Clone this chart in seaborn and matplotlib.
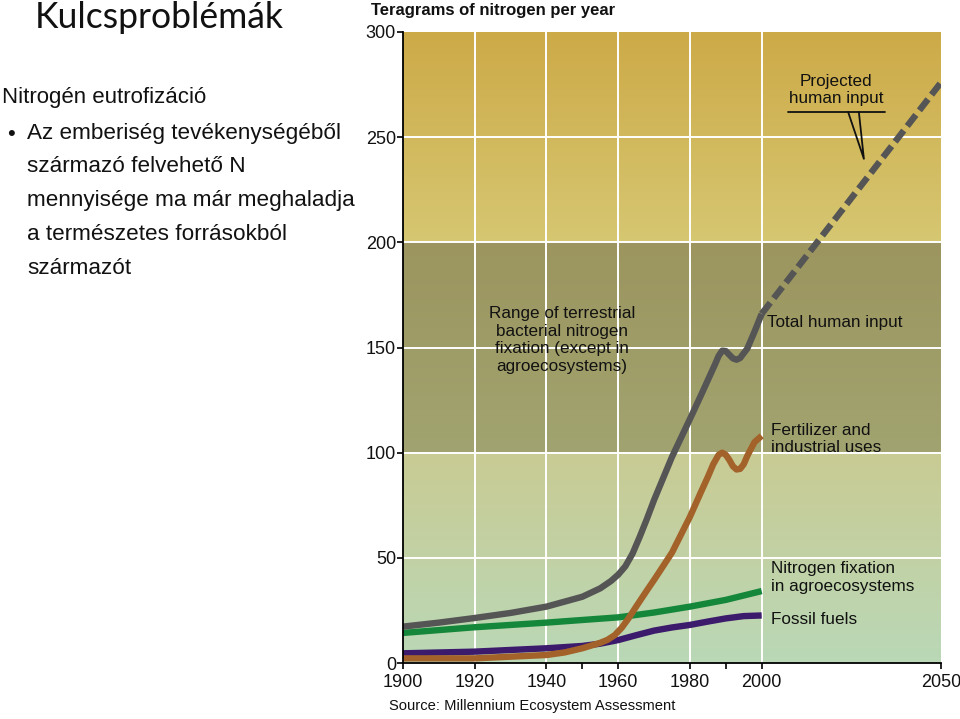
import numpy as np
import pandas as pd
import matplotlib
matplotlib.use("Agg")
import matplotlib.pyplot as plt
import matplotlib.colors as mcolors
import seaborn as sns

# ---------------- data ----------------
years_total = [1900, 1910, 1920, 1930, 1940, 1950, 1955, 1958, 1960, 1962, 1964, 1966, 1968,
               1970, 1975, 1980, 1983, 1985, 1987, 1988, 1989, 1990, 1991, 1992, 1993,
               1994, 1996, 1998, 2000]
total_input = [17.3, 19.2, 21.4, 23.8, 26.8, 31.5, 35.5, 39.0, 42.0, 46.0, 52.0, 60.0, 68.5,
               77.5, 98.0, 116.0, 127.0, 134.5, 142.0, 146.0, 148.5, 148.3, 146.5, 144.8, 144.2,
               145.0, 149.5, 157.5, 166.0]

years_proj = [2000, 2050]
projected = [166.0, 276.0]

years_fert = [1900, 1920, 1940, 1945, 1950, 1955, 1957, 1959, 1961, 1963, 1965, 1968, 1970,
              1975, 1980, 1983, 1985, 1986.5, 1988, 1989, 1990, 1991, 1992, 1993, 1994,
              1995, 1996, 1998, 2000]
fertilizer = [2.2, 2.2, 3.8, 5.0, 7.0, 9.6, 11.0, 13.2, 16.8, 21.5, 26.8, 34.5, 39.5,
              52.5, 69.5, 81.0, 88.5, 94.5, 99.0, 100.0, 99.0, 96.5, 93.5, 92.0, 92.3,
              94.5, 98.5, 105.0, 108.0]

years_agro = [1900, 1920, 1940, 1960, 1970, 1980, 1990, 2000]
agro_fix = [14.3, 17.0, 19.2, 21.7, 24.0, 26.8, 30.0, 34.2]

years_fossil = [1900, 1920, 1940, 1950, 1955, 1960, 1965, 1970, 1975, 1980, 1985, 1990, 1995, 2000]
fossil = [4.6, 5.4, 7.0, 8.1, 9.2, 10.9, 13.2, 15.4, 16.9, 18.1, 19.7, 21.2, 22.3, 22.6]

band_range = [100, 200]          # range of terrestrial bacterial N fixation
x_ticks = [1900, 1920, 1940, 1960, 1980, 2000, 2050]
x_minor = [1950, 1990]
y_ticks = [0, 50, 100, 150, 200, 250, 300]

body_lines = ["Az emberiség tevékenységéből", "származó felvehető N",
              "mennyisége ma már meghaladja", "a természetes forrásokból", "származót"]

# ---------------- figure ----------------
sns.set_theme(style="white")
plt.rcParams['font.family'] = ['Liberation Sans', 'DejaVu Sans']

fig = plt.figure(figsize=(9.6, 7.19), dpi=100)
fig.patch.set_facecolor("white")
ax = fig.add_axes([403/960, 1-663/719, (941-403)/960, (663-32)/719])

# background bands (gradient)
n = 600
yy = np.linspace(0, 300, n)
def lerp(c1, c2, t):
    a = np.array(mcolors.to_rgb(c1)); b = np.array(mcolors.to_rgb(c2))
    return a + (b - a) * t
rows = []
for v in yy:
    if v < band_range[0]:
        rows.append(lerp("#bad8b7", "#c9cb93", v / band_range[0]))
    elif v < band_range[1]:
        rows.append(lerp("#a1a470", "#9c955f", (v - band_range[0]) / (band_range[1] - band_range[0])))
    else:
        rows.append(lerp("#d6c772", "#cdaa48", (v - band_range[1]) / (300 - band_range[1])))
img = np.array(rows)[:, None, :]
ax.imshow(img, extent=[1900, 2050, 0, 300], origin="lower", aspect="auto", zorder=0,
          interpolation="bilinear")

# grid lines
for yv in y_ticks[1:-1]:
    ax.axhline(yv, color="white", lw=1.4, zorder=1)
for xv in x_ticks[1:-1]:
    ax.axvline(xv, color="white", lw=1.4, zorder=1)

# lines
df_agro = pd.DataFrame({"year": years_agro, "v": agro_fix})
df_fos = pd.DataFrame({"year": years_fossil, "v": fossil})
df_fert = pd.DataFrame({"year": years_fert, "v": fertilizer})
df_tot = pd.DataFrame({"year": years_total, "v": total_input})
df_proj = pd.DataFrame({"year": years_proj, "v": projected})

kw = dict(lw=4.6, solid_capstyle="butt", solid_joinstyle="round")
sns.lineplot(data=df_agro, x="year", y="v", color="#15873b", ax=ax, zorder=3, **kw)
sns.lineplot(data=df_fos, x="year", y="v", color="#3c1a6c", ax=ax, zorder=3, **kw)
sns.lineplot(data=df_fert, x="year", y="v", color="#a3622a", ax=ax, zorder=4, **kw)
sns.lineplot(data=df_tot, x="year", y="v", color="#555555", ax=ax, zorder=5, **kw)
sns.lineplot(data=df_proj, x="year", y="v", color="#555555", ax=ax, zorder=5,
             lw=4.6, dashes=False, linestyle=(0, (2.2, 0.9)))

ax.set_xlim(1900, 2050)
ax.set_ylim(0, 300)
ax.set_xlabel("")
ax.set_ylabel("")
ax.set_xticks(x_ticks)
ax.set_xticks(x_minor, minor=True)
ax.set_yticks(y_ticks)
ax.set_xticklabels([str(t) for t in x_ticks])
ax.tick_params(axis="both", which="both", direction="out", length=4, width=1.2,
               color="black", labelsize=13, labelcolor="#111111", pad=1.5)
ax.tick_params(axis="x", which="major", bottom=True, pad=4)
ax.tick_params(axis="x", which="minor", length=4, width=1.2, bottom=True)
ax.tick_params(axis="y", left=True, pad=1)
for s in ["top", "right"]:
    ax.spines[s].set_visible(False)
for s in ["left", "bottom"]:
    ax.spines[s].set_color("black")
    ax.spines[s].set_linewidth(1.3)
    ax.spines[s].set_zorder(6)

# annotations inside the plot
tkw = dict(fontsize=12.3, color="#111111", linespacing=1.22)
ax.text(1944.3, 153.6, "Range of terrestrial\nbacterial nitrogen\nfixation (except in\nagroecosystems)",
        ha="center", va="center", **tkw)
ax.text(2001.6, 162, "Total human input", ha="left", va="center", **tkw)
ax.text(2002.6, 106.5, "Fertilizer and\nindustrial uses", ha="left", va="center", **tkw)
ax.text(2002.6, 40.7, "Nitrogen fixation\nin agroecosystems", ha="left", va="center", **tkw)
ax.text(2002.6, 20.9, "Fossil fuels", ha="left", va="center", **tkw)
ax.text(2020.8, 272.5, "Projected\nhuman input", ha="center", va="center", **tkw)
ax.plot([2007.3, 2034.4], [262, 262], color="#111111", lw=1.3, zorder=6)
ax.plot([2024.1, 2028.5, 2027.1], [262, 239.7, 262], color="#111111", lw=1.3, zorder=6)

# figure texts
fig.text(371/960, 1-10/719, "Teragrams of nitrogen per year", ha="left", va="center",
         fontsize=12, fontweight="bold", color="#111111")
fig.text(389/960, 1-706/719, "Source: Millennium Ecosystem Assessment", ha="left", va="center",
         fontsize=10.6, color="#111111")

fig.text(35/960, 1-17/719, "Kulcsproblémák", ha="left", va="center",
         fontsize=25.6, color="#111111", family=["Lato", "DejaVu Sans"])
narrow = ["Liberation Sans", "DejaVu Sans"]
fig.text(2/960, 1-97/719, "Nitrogén eutrofizáció", ha="left", va="center",
         fontsize=16, color="#111111", family=narrow)
fig.text(7/960, 1-135/719, "•", ha="left", va="center", fontsize=16, color="#111111",
         family=narrow)
for i, line in enumerate(body_lines):
    fig.text(27/960, 1-(133 + 33.8*i)/719, line, ha="left", va="center", fontsize=16.2,
             color="#111111", family=narrow)

fig.savefig("out.png", dpi=100)
